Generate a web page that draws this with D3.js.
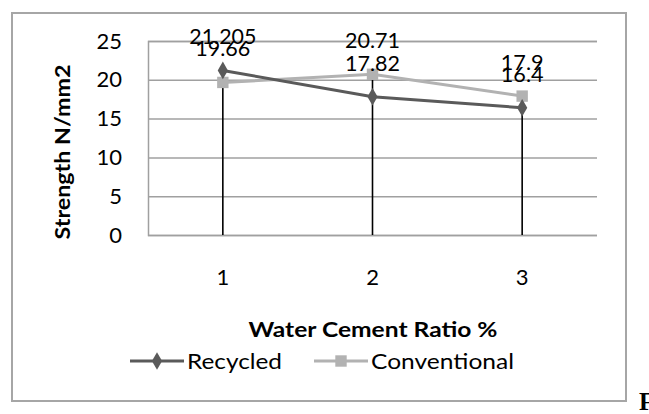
<!DOCTYPE html>
<html><head><meta charset="utf-8">
<script src="https://cdn.jsdelivr.net/npm/d3@7"></script>
<style>body{margin:0;background:#fff}svg{display:block}</style>
</head><body>
<script>
const categories = ["1", "2", "3"];
const recycled = [21.205, 17.82, 16.4];
const conventional = [19.66, 20.71, 17.9];
const yTicks = [0, 5, 10, 15, 20, 25];
const seriesNames = ["Recycled", "Conventional"];

const W = 649, H = 414;
const FONT = "Lato, 'Open Sans', sans-serif";
const svg = d3.select("body").append("svg").attr("width", W).attr("height", H);

// outer chart border
svg.append("rect").attr("x", 12).attr("y", 13).attr("width", 614).attr("height", 388)
  .attr("fill", "#fff").attr("stroke", "#a6a6a6").attr("stroke-width", 2);

const x = d3.scaleBand().domain(categories).range([148, 597]);
const y = d3.scaleLinear().domain([0, 25]).range([235, 41]);
const cx = c => x(c) + x.bandwidth() / 2;

// gridlines
const yAxis = d3.axisLeft(y).tickValues(yTicks).tickSize(-(597 - 148)).tickPadding(26);
const gy = svg.append("g").attr("transform", "translate(148,0)").call(yAxis);
gy.select(".domain").attr("stroke", "#a0a0a0").attr("stroke-width", 1.5);
gy.selectAll(".tick line").attr("stroke", "#a0a0a0").attr("stroke-width", 1.5);
gy.selectAll(".tick text").attr("font-family", FONT).attr("font-size", 22).attr("fill", "#000");

const xAxis = d3.axisBottom(x).tickSize(0).tickPadding(34);
const gx = svg.append("g").attr("transform", "translate(0,235)").call(xAxis);
gx.select(".domain").remove();
gx.selectAll(".tick text").attr("font-family", FONT).attr("font-size", 22).attr("fill", "#000");

// drop lines
svg.append("g").selectAll("line").data(categories).join("line")
  .attr("x1", cx).attr("x2", cx)
  .attr("y1", (c, i) => y(Math.max(recycled[i], conventional[i])))
  .attr("y2", y(0))
  .attr("stroke", "#000").attr("stroke-width", 1.6);

const colors = ["#5a5a5a", "#b2b2b2"];
const data = [recycled, conventional];
const line = d3.line().x((d, i) => cx(categories[i])).y(d => y(d));

[1, 0].forEach(s => {
  svg.append("path").datum(data[s]).attr("d", line)
    .attr("fill", "none").attr("stroke", colors[s]).attr("stroke-width", 3);
});
const sq = d3.symbol().type(d3.symbolSquare).size(130);
const di = d3.symbol().type(d3.symbolDiamond).size(90);
svg.append("g").selectAll("path").data(conventional).join("path")
  .attr("d", sq).attr("transform", (d, i) => `translate(${cx(categories[i])},${y(d)})`)
  .attr("fill", colors[1]);
svg.append("g").selectAll("path").data(recycled).join("path")
  .attr("d", di).attr("transform", (d, i) => `translate(${cx(categories[i])},${y(d)})`)
  .attr("fill", colors[0]);

// data labels
const labelLen = d => String(d).length * 12.2 - (String(d).includes(".") ? 6 : 0);
data.forEach((arr, s) => {
  svg.append("g").selectAll("text").data(arr).join("text")
    .attr("x", (d, i) => cx(categories[i])).attr("y", d => y(d) - 26)
    .attr("text-anchor", "middle").attr("font-family", FONT).attr("font-size", 22)
    .attr("textLength", labelLen).attr("lengthAdjust", "spacingAndGlyphs")
    .attr("fill", "#000").text(d => d);
});

// axis titles
svg.append("text").attr("transform", "translate(70,152) rotate(-90)")
  .attr("text-anchor", "middle").attr("font-family", FONT).attr("font-weight", "bold")
  .attr("font-size", 20).attr("textLength", 175).attr("lengthAdjust", "spacingAndGlyphs")
  .text("Strength N/mm2");
svg.append("text").attr("x", 373).attr("y", 337)
  .attr("text-anchor", "middle").attr("font-family", FONT).attr("font-weight", "bold")
  .attr("font-size", 21).attr("textLength", 249).attr("lengthAdjust", "spacingAndGlyphs")
  .text("Water Cement Ratio %");

// legend
const lg = svg.append("g");
const legX = [130, 314];
const legLen = [95, 143];
seriesNames.forEach((n, s) => {
  const g = lg.append("g").attr("transform", `translate(${legX[s]},361)`);
  g.append("line").attr("x1", 0).attr("x2", 54).attr("stroke", colors[s]).attr("stroke-width", 3);
  g.append("path").attr("d", s === 0 ? di : sq).attr("transform", "translate(27,0)").attr("fill", colors[s]);
  g.append("text").attr("x", 57).attr("y", 8).attr("font-family", FONT).attr("font-size", 22)
    .attr("textLength", legLen[s]).attr("lengthAdjust", "spacingAndGlyphs")
    .attr("fill", "#000").text(n);
});

svg.append("text").attr("x", 639).attr("y", 410).attr("font-family", "'Liberation Serif', serif")
  .attr("font-weight", "bold").attr("font-size", 25).text("F");
</script>
</body></html>
